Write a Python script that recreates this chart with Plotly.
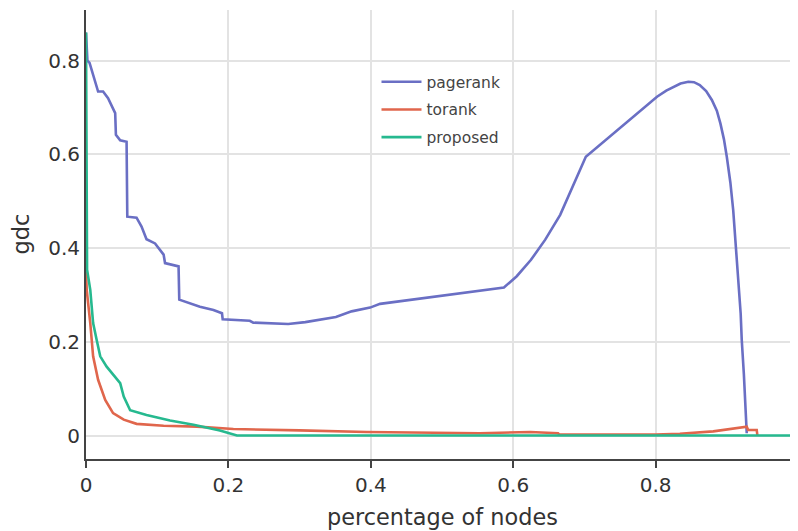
import plotly.graph_objects as go

# pagerank
pr_x = [0, 0.002, 0.005, 0.010, 0.017, 0.024, 0.031, 0.041, 0.042, 0.048, 0.057, 0.058, 0.071, 0.078,
        0.085, 0.097, 0.109, 0.111, 0.123, 0.130, 0.131, 0.160, 0.179, 0.191, 0.192, 0.230, 0.235,
        0.259, 0.284, 0.308, 0.351, 0.373, 0.399, 0.413, 0.587, 0.605, 0.625, 0.645, 0.666, 0.702,
        0.802, 0.815, 0.825, 0.835, 0.846, 0.854, 0.862, 0.871, 0.879, 0.886, 0.891, 0.896, 0.900,
        0.905, 0.909, 0.913, 0.916, 0.9195, 0.921, 0.924, 0.928]
pr_y = [0.86, 0.80, 0.795, 0.77, 0.734, 0.734, 0.72, 0.688, 0.642, 0.63, 0.627, 0.467, 0.465, 0.446,
        0.419, 0.41, 0.386, 0.368, 0.364, 0.361, 0.29, 0.275, 0.268, 0.261, 0.248, 0.245, 0.241,
        0.240, 0.238, 0.242, 0.253, 0.265, 0.273, 0.281, 0.316, 0.340, 0.375, 0.418, 0.471, 0.595,
        0.723, 0.736, 0.744, 0.751, 0.755, 0.754, 0.748, 0.735, 0.716, 0.693, 0.666, 0.632, 0.595,
        0.54, 0.481, 0.40, 0.332, 0.26, 0.204, 0.13, 0.005]

# torank
tr_x = [0, 0.001, 0.006, 0.010, 0.017, 0.027, 0.038, 0.053, 0.071, 0.109, 0.156, 0.207, 0.30, 0.394,
        0.553, 0.624, 0.663, 0.665, 0.80, 0.834, 0.881, 0.928, 0.930, 0.942, 0.943]
tr_y = [0.35, 0.311, 0.24, 0.169, 0.119, 0.076, 0.048, 0.034, 0.025, 0.021, 0.019, 0.014, 0.011, 0.0075,
        0.005, 0.0075, 0.005, 0.002, 0.002, 0.004, 0.009, 0.019, 0.012, 0.012, 0.0]

# proposed
pp_x = [0, 0.0015, 0.006, 0.010, 0.015, 0.020, 0.029, 0.038, 0.048, 0.053, 0.062, 0.085, 0.118,
        0.151, 0.188, 0.212, 1.0]
pp_y = [0.86, 0.354, 0.311, 0.24, 0.204, 0.169, 0.147, 0.13, 0.112, 0.083, 0.054, 0.044, 0.032,
        0.023, 0.011, 0.0, 0.0]

x_ticks = [0, 0.2, 0.4, 0.6, 0.8, 1]
x_tick_text = ["0", "0.2", "0.4", "0.6", "0.8", "1"]
y_ticks = [0, 0.2, 0.4, 0.6, 0.8]
y_tick_text = ["0", "0.2", "0.4", "0.6", "0.8"]

FONT = "DejaVu Sans"

fig = go.Figure()
fig.add_trace(go.Scatter(x=pr_x, y=pr_y, mode="lines", name="pagerank", legendgroup="a",
                         line=dict(color="#6a6fc4", width=2.6)))
fig.add_trace(go.Scatter(x=tr_x, y=tr_y, mode="lines", name="torank", legendgroup="b",
                         line=dict(color="#e0664c", width=2.6)))
fig.add_trace(go.Scatter(x=pp_x, y=pp_y, mode="lines", name="proposed", legendgroup="c",
                         line=dict(color="#26b98f", width=2.6)))

fig.update_layout(
    width=790, height=523,
    margin=dict(l=78, r=0, t=2, b=72, autoexpand=False),
    paper_bgcolor="white", plot_bgcolor="white",
    font=dict(family=FONT, color="#333333"),
    showlegend=True,
    legend=dict(x=0.408, y=0.877, xanchor="left", yanchor="top",
                bgcolor="rgba(0,0,0,0)", font=dict(family=FONT, size=15.5, color="#444444"),
                tracegroupgap=4.5, traceorder="grouped", itemwidth=40),
    xaxis=dict(range=[0, 1], tickvals=x_ticks, ticktext=x_tick_text, automargin=False,
               ticklabeloverflow="allow",
               showgrid=True, gridcolor="#e3e3e3", gridwidth=1.5,
               showline=True, linecolor="#444444", linewidth=2,
               ticks="outside", ticklen=7, tickwidth=2, tickcolor="#444444",
               zeroline=False, tickfont=dict(size=20, family=FONT, color="#333333")),
    yaxis=dict(range=[-0.05, 0.908], tickvals=y_ticks, ticktext=y_tick_text, automargin=False,
               showgrid=True, gridcolor="#e3e3e3", gridwidth=1.5,
               showline=True, linecolor="#444444", linewidth=2,
               ticks="", zeroline=False, tickfont=dict(size=20, family=FONT, color="#333333")),
    annotations=[
        dict(text="percentage of nodes", xref="paper", yref="paper", x=0.5, y=-0.0, yshift=-58,
             showarrow=False, xanchor="center", yanchor="middle",
             font=dict(size=22.4, family=FONT, color="#333333")),
        dict(text="gdc", xref="paper", yref="paper", x=0.0, y=0.5, xshift=-66,
             showarrow=False, xanchor="center", yanchor="middle", textangle=-90,
             font=dict(size=22.4, family=FONT, color="#333333")),
    ],
)

fig.write_html("out.html")
